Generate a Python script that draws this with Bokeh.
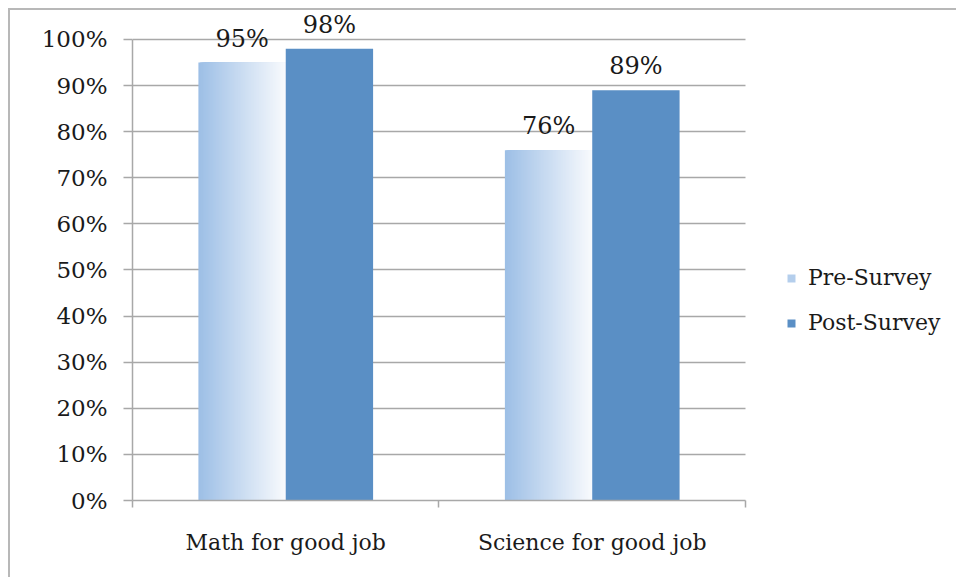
from bokeh.plotting import figure
from bokeh.models import (ColumnDataSource, Range1d, LinearAxis,
                          FixedTicker, PrintfTickFormatter, LabelSet, Legend, LegendItem)
from bokeh.core.properties import value
from bokeh.transform import dodge
from bokeh.embed import file_html
from bokeh.resources import INLINE

# ---- data ----
categories = ["Math for good job", "Science for good job"]
series_names = ["Pre-Survey", "Post-Survey"]
pre_values = [95, 76]
post_values = [98, 89]
y_ticks = [0, 10, 20, 30, 40, 50, 60, 70, 80, 90, 100]

# ---- styles ----
FONT = "DejaVu Serif"
TEXT = "#1a1a1a"
GRID = "#a8a8a8"
BORDER = "#b8b8b8"
POST_COLOR = "#5a8fc5"
GRAD_LEFT = (157, 191, 230)
GRAD_RIGHT = (248, 250, 253)
BAR_W = 0.285
N_STRIPS = 60
Y_MAX = 100
X_EXTRA = 0.695    # room to the right of the category slots (legend area)
Y_EXTRA = 6.29     # room above 100% for the value labels

n_cat = len(categories)
centers = [i + 0.5 for i in range(n_cat)]          # category slot centres
boundaries = list(range(n_cat + 1))                 # category slot edges

src = ColumnDataSource(dict(
    x=centers,
    pre=pre_values,
    post=post_values,
    pre_lbl=[f"{v}%" for v in pre_values],
    post_lbl=[f"{v}%" for v in post_values],
))

p = figure(x_range=Range1d(0, n_cat + X_EXTRA), y_range=Range1d(0, Y_MAX + Y_EXTRA),
           width=948, height=569, output_backend="svg", toolbar_location=None,
           x_axis_location=None, min_border_left=122, min_border_right=0,
           min_border_top=0, min_border_bottom=79)
p.outline_line_color = None
p.background_fill_color = "white"
p.border_fill_color = "white"
p.styles = {"border-top": f"2px solid {BORDER}", "border-left": f"2px solid {BORDER}",
            "margin-left": "8px", "margin-top": "8px"}

# grid (limited to the category slots)
p.xgrid.grid_line_color = None
p.ygrid.ticker = FixedTicker(ticks=y_ticks)
if hasattr(p.ygrid, "cross_bounds"):
    p.ygrid.cross_bounds = (0, n_cat)
    p.ygrid.grid_line_color = GRID
    p.ygrid.grid_line_width = 1.5
else:
    p.ygrid.grid_line_color = None
    p.segment(x0=[0] * len(y_ticks), x1=[n_cat] * len(y_ticks), y0=y_ticks, y1=y_ticks,
              line_color=GRID, line_width=1.5, level="underlay")

# y axis
ya = p.yaxis[0]
ya.ticker = FixedTicker(ticks=y_ticks)
ya.bounds = (0, Y_MAX)
ya.formatter = PrintfTickFormatter(format="%d%%")
ya.axis_line_color = GRID
ya.axis_line_width = 1.5
ya.major_tick_line_color = GRID
ya.major_tick_line_width = 1.5
ya.major_tick_in = 0
ya.major_tick_out = 9
ya.minor_tick_line_color = None
ya.major_label_standoff = 16
ya.major_label_text_font = FONT
ya.major_label_text_font_size = "23px"
ya.major_label_text_color = TEXT

# x axis: labels at slot centres (major), separator ticks at slot edges (minor)
xa = LinearAxis(ticker=FixedTicker(ticks=centers, minor_ticks=boundaries),
                bounds=(0, n_cat),
                major_label_overrides={c: name for c, name in zip(centers, categories)},
                axis_line_color=GRID, axis_line_width=1.5,
                major_tick_line_color=None, major_tick_in=0, major_tick_out=0,
                minor_tick_line_color=GRID, minor_tick_line_width=1.5,
                minor_tick_in=0, minor_tick_out=7,
                major_label_standoff=22,
                major_label_text_font=FONT, major_label_text_font_size="22px",
                major_label_text_color=TEXT)
p.add_layout(xa, "below")

# pre-survey bars: horizontal gradient built from layered strips
strip_w = BAR_W / N_STRIPS
strip_renderers = []
for i in range(N_STRIPS):
    t = i / (N_STRIPS - 1)
    rgb = tuple(round(a + (b - a) * t) for a, b in zip(GRAD_LEFT, GRAD_RIGHT))
    color = "#%02x%02x%02x" % rgb
    w = BAR_W - i * strip_w                # from strip's left edge to bar's right edge
    r = p.vbar(x=dodge("x", -w / 2), top="pre", width=w,
               source=src, fill_color=color, line_color=None)
    strip_renderers.append(r)

# post-survey bars
r_post = p.vbar(x=dodge("x", BAR_W / 2), top="post", width=BAR_W,
                source=src, fill_color=POST_COLOR, line_color=None)

# value labels
for field, off in (("pre", -BAR_W / 2), ("post", BAR_W / 2)):
    ls = LabelSet(x=dodge("x", off), y=field, text=field + "_lbl",
                  source=src, text_align="center", text_baseline="bottom", y_offset=10,
                  text_font=value(FONT), text_font_size=value("24px"),
                  text_color=TEXT)
    p.add_layout(ls)

# legend
legend = Legend(items=[LegendItem(label=series_names[0], renderers=[strip_renderers[15]]),
                       LegendItem(label=series_names[1], renderers=[r_post])],
                location=(654, 165), orientation="vertical",
                glyph_width=10, glyph_height=10, label_standoff=12,
                label_height=22, spacing=20, padding=0, margin=0,
                label_text_font=FONT, label_text_font_size="22px",
                label_text_color=TEXT, border_line_color=None,
                background_fill_alpha=0)
p.add_layout(legend, "center")

open("out.html", "w").write(file_html(p, INLINE))
